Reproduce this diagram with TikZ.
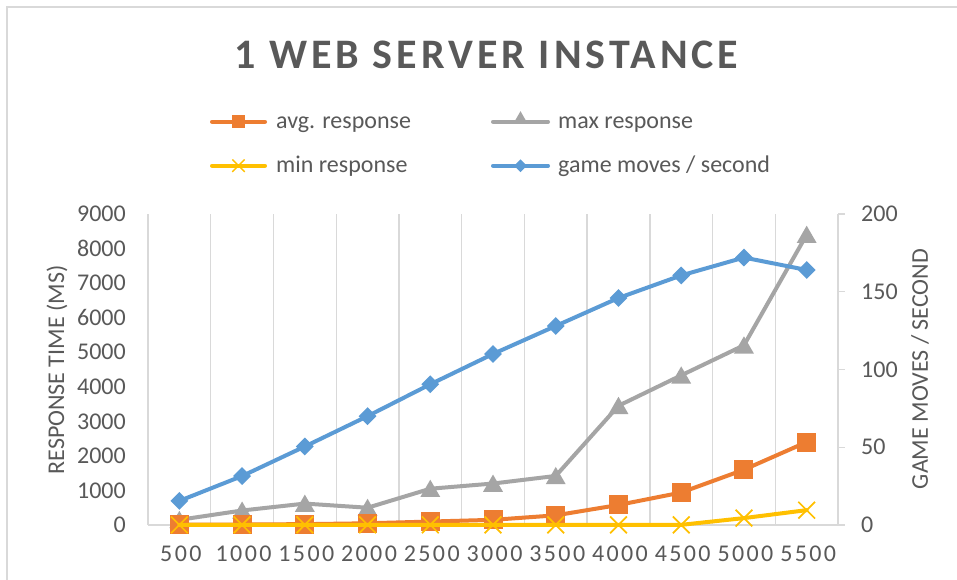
\documentclass[tikz,border=0pt]{standalone}
\usepackage{fontspec}
\setmainfont{Carlito}
\newfontfamily\titlefont[LetterSpace=9.5]{Carlito}
\newfontfamily\xlabfont[LetterSpace=10]{Carlito}
\usetikzlibrary{shapes.geometric,shapes.misc}
\definecolor{cOr}{HTML}{ED7D31}
\definecolor{cGy}{HTML}{A5A5A5}
\definecolor{cYe}{HTML}{FFC000}
\definecolor{cBl}{HTML}{5B9BD5}
\definecolor{cTx}{HTML}{595959}
\definecolor{cGr}{HTML}{D9D9D9}
\tikzset{
  gridline/.style={draw=cGr, line width=1.3},
  serline/.style={line width=4, line join=round, line cap=round},
  sqm/.style={rectangle, fill=cOr, minimum size=19, inner sep=0},
  trim/.style={regular polygon, regular polygon sides=3, fill=cGy, minimum size=23, inner sep=0},
  diam/.style={diamond, fill=cBl, minimum width=18, minimum height=18, inner sep=0},
  xmk/.style={cross out, draw=cYe, line width=1.7, minimum size=15, inner sep=0},
  lab/.style={text=cTx, font=\fontsize{24}{26}\selectfont, inner sep=0},
  xlab/.style={text=cTx, font=\xlabfont\fontsize{24}{26}\selectfont, inner sep=0},
}
\begin{document}
\begin{tikzpicture}[x=1pt,y=-1pt]
\useasboundingbox (0,0) rectangle (957,579);
\fill[white] (0,0) rectangle (957,579);
\draw[cGr, line width=2] (7,590) -- (7,7) -- (970,7);
% title
\node[text=cTx, font=\titlefont\bfseries\fontsize{42}{46}\selectfont, anchor=base, inner sep=0] (title) at (486.5,68.5) {1 WEB SERVER INSTANCE};
% grid
\foreach \k in {0,...,10} \draw[gridline] ({148+\k*62.73},214) -- ({148+\k*62.73},525);
\draw[gridline] (148,525) -- (838,525);
\draw[gridline] (838,214) -- (838,525);
\foreach \v in {0,50,100,150,200} \draw[gridline] (838,{525-\v*1.555}) -- (845,{525-\v*1.555});
% axis labels
\foreach \v in {0,1000,...,9000} \node[lab, anchor=east] (yl\v) at (126,{525-\v*0.034556}) {\v};
\foreach \v in {0,50,100,150,200} \node[lab, anchor=west] (yr\v) at (861,{525-\v*1.555}) {\v};
\foreach \c [count=\i] in {500,1000,1500,2000,2500,3000,3500,4000,4500,5000,5500}
  \node[xlab] (xl\i) at ({149.5+(\i-0.5)*62.73},553.3) {\c};
\node[lab, rotate=90] (ytl) at (57,370) {RESPONSE TIME (MS)};
\node[lab, rotate=90] (ytr) at (920,369) {GAME MOVES / SECOND};
% data coordinates
\foreach \v [count=\i] in {150,420,620,500,1050,1200,1420,3450,4330,5200,8400}
  \coordinate (g\i) at ({148+(\i-0.5)*62.73},{525-\v*0.034556});
\foreach \v [count=\i] in {10,15,25,50,100,150,280,580,940,1600,2400}
  \coordinate (o\i) at ({148+(\i-0.5)*62.73},{525-\v*0.034556});
\foreach \v [count=\i] in {5,5,5,5,5,5,5,5,5,200,430}
  \coordinate (y\i) at ({148+(\i-0.5)*62.73},{525-\v*0.034556});
\foreach \v [count=\i] in {15.5,31.5,50.5,70,90.5,110,128,146,160.5,172,164}
  \coordinate (b\i) at ({148+(\i-0.5)*62.73},{525-\v*1.555});
% series
\draw[serline, cGy] (g1) \foreach \i in {2,...,11} {-- (g\i)};
\foreach \i in {1,...,11} \node[trim] (gm\i) at ([yshift=-2.5]g\i) {};
\draw[serline, cOr] (o1) \foreach \i in {2,...,11} {-- (o\i)};
\foreach \i in {1,...,11} \node[sqm] (om\i) at (o\i) {};
\draw[serline, cYe] (y1) \foreach \i in {2,...,11} {-- (y\i)};
\foreach \i in {1,...,11} \node[xmk] (ym\i) at (y\i) {};
\draw[serline, cBl] (b1) \foreach \i in {2,...,11} {-- (b\i)};
\foreach \i in {1,...,11} \node[diam] (bm\i) at (b\i) {};
% legend
\coordinate (la1) at (212,121.7); \coordinate (la2) at (265,121.7);
\coordinate (lb1) at (493,121.7); \coordinate (lb2) at (548,121.7);
\coordinate (lc1) at (212,165.7); \coordinate (lc2) at (265,165.7);
\coordinate (ld1) at (493,165.7); \coordinate (ld2) at (548,165.7);
\draw[serline, cOr] (la1) -- (la2);
\node[sqm, minimum size=13] (lam) at (238.5,121.7) {};
\draw[serline, cGy] (lb1) -- (lb2);
\node[trim, minimum size=17] (lbm) at (520.5,119.7) {};
\draw[serline, cYe] (lc1) -- (lc2);
\node[xmk, minimum size=11, line width=1.4] (lcm) at (238.5,165.7) {};
\draw[serline, cBl] (ld1) -- (ld2);
\node[diam, minimum width=13, minimum height=13] (ldm) at (520.5,165.7) {};
\node[lab, anchor=base west] (lat) at (276,128.2) {avg. response};
\node[lab, anchor=base west] (lbt) at (558,128.2) {max response};
\node[lab, anchor=base west] (lct) at (276,172.2) {min response};
\node[lab, anchor=base west] (ldt) at (558,172.2) {game moves / second};
\end{tikzpicture}
\end{document}
